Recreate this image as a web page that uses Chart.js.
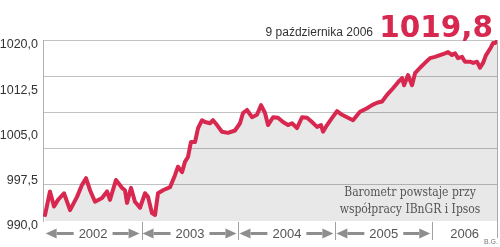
<!DOCTYPE html>
<html lang="pl">
<head>
<meta charset="utf-8">
<title>Barometr</title>
<script src="https://cdn.jsdelivr.net/npm/chart.js@4"></script>
<style>
  html, body { margin: 0; padding: 0; background: #fff; }
  #wrap { position: relative; width: 500px; height: 247px; overflow: hidden; }
  #chart { position: absolute; left: 0; top: 0; }
  .txt { position: absolute; white-space: nowrap; line-height: 1; }
  #date { right: 127px; top: 25px; font: 12px "Liberation Sans", Arial, sans-serif; color: #333; }
  #last { right: 7px; top: 10px; font: bold 29.5px "DejaVu Sans", sans-serif; color: #d7284f; }
  #note { left: 335px; width: 150px; top: 184px; font: 12px "DejaVu Serif Condensed", "DejaVu Serif", serif;
          color: #555; text-align: center; line-height: 17px; white-space: normal; }
  #author { right: 2px; top: 238px; font: 7px "Liberation Sans", Arial, sans-serif; color: #777; }
</style>
</head>
<body>
<div id="wrap">
  <canvas id="chart" width="500" height="247"></canvas>
  <div class="txt" id="date">9 października 2006</div>
  <div class="txt" id="last">1019,8</div>
  <div class="txt" id="note">Barometr powstaje przy<br>współpracy IBnGR i Ipsos</div>
  <div class="txt" id="author">B.G.</div>
</div>
<script>
// dates as decimal years, values of the barometer
const dates = [
  2002.004, 2002.055, 2002.097, 2002.138, 2002.200, 2002.262, 2002.334, 2002.386, 2002.427, 2002.468,
  2002.520, 2002.592, 2002.644, 2002.674, 2002.736, 2002.798, 2002.829, 2002.850, 2002.891, 2002.932,
  2002.984, 2003.036, 2003.067, 2003.108, 2003.139, 2003.170, 2003.221, 2003.294, 2003.345, 2003.376,
  2003.418, 2003.448, 2003.479, 2003.510, 2003.552, 2003.583, 2003.624, 2003.655, 2003.706, 2003.737,
  2003.779, 2003.830, 2003.892, 2003.964, 2004.016, 2004.047, 2004.088, 2004.140, 2004.191, 2004.233,
  2004.274, 2004.305, 2004.357, 2004.408, 2004.460, 2004.511, 2004.553, 2004.604, 2004.656, 2004.708,
  2004.759, 2004.811, 2004.852, 2004.873, 2004.914, 2004.966, 2005.017, 2005.069, 2005.120, 2005.182,
  2005.254, 2005.327, 2005.378, 2005.430, 2005.482, 2005.533, 2005.595, 2005.647, 2005.688, 2005.709,
  2005.750, 2005.791, 2005.822, 2005.874, 2005.925, 2005.977, 2006.028, 2006.080, 2006.132, 2006.163,
  2006.204, 2006.235, 2006.266, 2006.307, 2006.338, 2006.390, 2006.421, 2006.462, 2006.493, 2006.524,
  2006.555, 2006.575, 2006.606, 2006.627, 2006.648, 2006.668
];
const values = [
  991.0, 994.9, 992.4, 993.5, 994.6, 991.8, 994.0, 996.0, 997.1, 995.1,
  993.2, 993.8, 994.9, 993.5, 996.8, 995.5, 995.1, 993.0, 995.5, 993.2,
  992.2, 994.6, 994.0, 991.3, 991.0, 994.6, 995.1, 995.6, 997.6, 999.0,
  998.1, 999.8, 1000.6, 1003.1, 1003.1, 1005.4, 1006.7, 1006.4, 1006.2, 1006.7,
  1005.9, 1004.8, 1004.6, 1005.0, 1006.2, 1007.9, 1008.4, 1007.2, 1007.6, 1009.2,
  1007.9, 1005.9, 1007.2, 1007.1, 1006.4, 1005.9, 1006.2, 1005.4, 1007.2, 1007.1,
  1006.4, 1005.6, 1005.9, 1004.8, 1005.9, 1007.1, 1008.2, 1007.6, 1007.2, 1006.7,
  1008.1, 1008.7, 1009.2, 1009.6, 1009.8, 1010.9, 1012.0, 1013.0, 1013.7, 1012.5,
  1014.2, 1012.5, 1014.5, 1015.4, 1016.2, 1017.0, 1017.2, 1017.5, 1017.8, 1018.0,
  1017.5, 1017.8, 1017.0, 1017.2, 1016.4, 1016.4, 1016.2, 1016.4, 1015.4, 1016.2,
  1017.5, 1018.0, 1018.8, 1019.5, 1019.5, 1019.8
];

const yearLabels = ["2002", "2003", "2004", "2005", "2006"];
const yearStarts = [2002, 2003, 2004, 2005, 2006];
const yearArrows = [true, true, true, true, false];

const X_MIN = 2001.983;
const X_MAX = 2006.668;
const Y_MIN = 990;
const Y_MAX = 1020;

function drawArrow(ctx, from, tip, y) {
  const dir = Math.sign(tip - from);
  const head = 11;
  ctx.beginPath();
  ctx.moveTo(from, y);
  ctx.lineTo(tip - dir * head, y);
  ctx.stroke();
  ctx.beginPath();
  ctx.moveTo(tip, y);
  ctx.lineTo(tip - dir * head, y - 5);
  ctx.lineTo(tip - dir * head, y + 5);
  ctx.closePath();
  ctx.fill();
}

// years under the chart, with arrows and separators
const yearAxisPlugin = {
  id: "yearAxis",
  afterDraw(chart) {
    const { ctx, chartArea, scales } = chart;
    const xs = scales.x;
    const bottom = chartArea.bottom;
    ctx.save();
    ctx.strokeStyle = "#a8a8a8";
    ctx.lineWidth = 1;
    ctx.beginPath();
    const rx = Math.round(chartArea.right) + 0.5;
    ctx.moveTo(rx, chartArea.top);
    ctx.lineTo(rx, bottom + 17);
    ctx.stroke();

    ctx.font = '13px "Liberation Sans", Arial, sans-serif';
    ctx.textAlign = "center";
    ctx.textBaseline = "alphabetic";
    yearLabels.forEach((label, i) => {
      const x0 = xs.getPixelForValue(yearStarts[i]);
      const x1 = Math.min(xs.getPixelForValue(yearStarts[i] + 1), chartArea.right);
      if (i > 0) {
        const sx = Math.round(x0) + 0.5;
        ctx.strokeStyle = "#a0a0a0";
        ctx.lineWidth = 1;
        ctx.beginPath();
        ctx.moveTo(sx, bottom + 1);
        ctx.lineTo(sx, bottom + 19);
        ctx.stroke();
      }
      const cx = (x0 + x1) / 2;
      ctx.fillStyle = "#555";
      ctx.fillText(label, cx, bottom + 17);
      if (yearArrows[i]) {
        const w = ctx.measureText(label).width;
        ctx.strokeStyle = "#8e8e8e";
        ctx.fillStyle = "#8e8e8e";
        ctx.lineWidth = 3;
        drawArrow(ctx, cx - w / 2 - 5, x0 + 1, bottom + 12.5);
        drawArrow(ctx, cx + w / 2 + 5, x1 - 2, bottom + 12.5);
      }
    });
    ctx.restore();
  }
};

const ctx = document.getElementById("chart").getContext("2d");
new Chart(ctx, {
  type: "line",
  data: {
    datasets: [{
      data: dates.map((d, i) => ({ x: d, y: values[i] })),
      borderColor: "#d8284f",
      borderWidth: 4,
      borderJoinStyle: "round",
      borderCapStyle: "round",
      backgroundColor: "rgba(0,0,0,0.09)",
      fill: "start",
      pointRadius: 0,
      tension: 0,
      yAxisID: "y"
    }]
  },
  options: {
    responsive: false,
    animation: false,
    devicePixelRatio: 1,
    events: [],
    layout: { padding: { top: 40, right: 3, left: 0, bottom: 0 } },
    plugins: { legend: { display: false }, tooltip: { enabled: false } },
    scales: {
      x: {
        type: "linear",
        min: X_MIN,
        max: X_MAX,
        grid: { display: false },
        border: { display: false },
        ticks: { display: false },
        afterFit(s) { s.height = 26; s.paddingLeft = 0; s.paddingRight = 0; }
      },
      y: {
        position: "left",
        min: Y_MIN,
        max: Y_MAX,
        grid: { display: false, drawTicks: false },
        border: { display: true, color: "#b0b0b0" },
        ticks: {
          stepSize: 7.5,
          padding: 5,
          labelOffset: 5,
          color: "#333",
          font: { family: '"Liberation Sans", Arial, sans-serif', size: 12.5 },
          callback: v => v.toFixed(1).replace(".", ",")
        },
        afterFit(s) { s.width = 43; s.paddingTop = 0; s.paddingBottom = 0; }
      },
      yGrid: {
        position: "left",
        min: Y_MIN,
        max: Y_MAX,
        border: { display: false },
        ticks: { display: false, stepSize: 6 },
        grid: {
          drawTicks: false,
          color: c => (c.tick && c.tick.value === Y_MIN ? "rgba(0,0,0,0)" : "#c2c2c2")
        },
        afterFit(s) { s.width = 0; s.paddingTop = 0; s.paddingBottom = 0; }
      }
    }
  },
  plugins: [yearAxisPlugin]
});
</script>
</body>
</html>
